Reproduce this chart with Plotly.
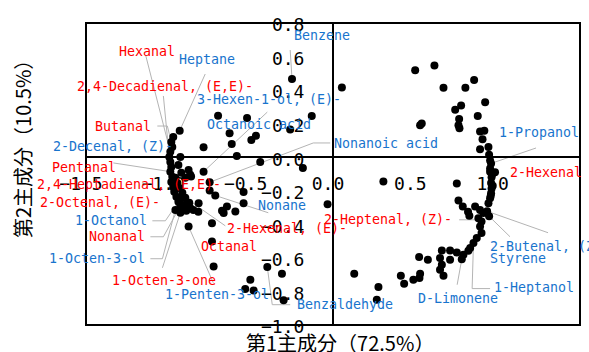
import plotly.graph_objects as go

# PCA loading plot of volatile compounds (PC1 vs PC2).
# Blank names are variables drawn without a text label.
compound = [
    "Hexanal", "2,4-Decadienal, (E,E)-", "Butanal", "Heptane", "2-Decenal, (Z)-",
    "Pentanal", "Benzene", "3-Hexen-1-ol, (E)-", "Octanoic acid", "Nonanoic acid",
    "1-Propanol", "2-Hexenal", "2-Butenal, (Z)-", "Styrene", "2-Heptenal, (Z)-",
    "1-Heptanol", "D-Limonene", "Benzaldehyde", "1-Penten-3-ol", "1-Octen-3-one",
    "1-Octen-3-ol", "Nonanal", "1-Octanol", "2-Hexenal, (E)-", "Nonane",
    "Octanal", "2-Octenal, (E)-", "2,4-Heptadienal, (E,E)-",
    # left cluster
    "", "", "", "", "", "", "", "", "", "", "", "", "", "", "", "", "", "", "", "", "", "", "", "", "",
    # upper middle
    "", "", "", "", "", "", "", "", "", "", "", "",
    # right arc
    "", "", "", "", "", "", "", "", "", "", "", "", "", "", "", "", "", "", "", "", "",
    "", "", "", "", "", "", "", "", "", "", "", "", "", "", "", "", "", "", "", "", "",
    "", "", "", "", "", "", "", "", "", "", "", "", "", "", "", "", "", "", "", "", "",
    "", "",
    # lower left
    "", "", "", "", "", "", "", "", "", "", "", "", "", "", "",
]

pc1 = [
    -0.988, -0.994, -0.982, -0.931, -0.976,
    -0.988, -0.249, -0.786, -0.628, -0.749,
    0.960, 0.984, 0.936, 0.948, 0.902,
    0.853, 0.782, -0.399, -0.877, -0.927,
    -0.957, -0.927, -0.939, -0.897, -0.715,
    -0.735, -0.964, -0.862,
    -0.970, -0.988, -0.982, -0.976, -0.982, -0.970, -0.951, -0.909, -0.891, -0.957,
    -0.945, -0.933, -0.915, -0.873, -0.921, -0.897, -0.897, -0.867, -0.848, -0.818,
    -0.939, -0.927, -0.877, -0.921, -0.867,
    0.054, -0.129, -0.260, -0.522, -0.698, -0.615, -0.496, -0.468, -0.786, -0.584,
    -0.442, -0.183,
    0.499, 0.616, 0.671, 0.804, 0.857, 0.924, 0.778, 0.742, 0.766, 0.762, 0.768,
    0.529, 0.539, 0.879, 0.893, 0.919, 0.908, 0.893, 0.944, 0.948, 0.954,
    0.954, 0.954, 0.963, 0.960, 0.963, 0.960, 0.954, 0.944, 0.752, 0.762, 0.788,
    0.863, 0.893, 0.913, 0.883, 0.893, 0.902, 0.873, 0.833, 0.822, 0.792, 0.661,
    0.711, 0.752, 0.523, 0.576, 0.711, 0.661, 0.650, 0.671, 0.529, 0.525, 0.488,
    0.432, 0.412, 0.306, 0.276, 0.266, 0.129, -0.033, 0.828, 0.820, 0.650, 0.968,
    0.970, 0.958,
    -0.543, -0.543, -0.310, -0.502, -0.533, -0.482, -0.300, -0.749, -0.664, -0.593,
    -0.735, -0.725, -0.644, -0.674, -0.816,
]

pc2 = [
    0.032, 0.002, 0.091, 0.158, 0.061,
    -0.086, 0.466, -0.086, 0.143, -0.149,
    -0.037, -0.089, -0.322, -0.352, -0.383,
    -0.512, -0.608, -0.654, -0.413, -0.331,
    -0.314, -0.290, -0.266, -0.242, -0.228,
    -0.502, -0.206, -0.115,
    0.121, -0.028, -0.058, -0.117, -0.147, -0.177, -0.236, -0.308, -0.319, -0.123,
    -0.153, -0.183, -0.212, -0.272, -0.093, -0.123, -0.284, -0.302, -0.314, -0.325,
    -0.046, 0.002, -0.076, -0.244, -0.105,
    0.415, 0.246, 0.165, 0.234, 0.247, 0.079, 0.103, 0.128, 0.059, 0.008,
    -0.028, -0.064,
    0.518, 0.547, 0.414, 0.414, 0.460, 0.327, 0.309, 0.283, 0.228, 0.190, 0.173,
    0.190, 0.201, 0.246, 0.153, 0.158, 0.107, 0.048, 0.061, 0.014, -0.019,
    -0.067, -0.086, -0.120, -0.153, -0.186, -0.215, -0.245, -0.275, -0.156, -0.258, -0.294,
    -0.294, -0.314, -0.333, -0.363, -0.413, -0.452, -0.482, -0.541, -0.557, -0.581, -0.556,
    -0.556, -0.568, -0.595, -0.611, -0.611, -0.641, -0.670, -0.706, -0.694, -0.720, -0.730,
    -0.754, -0.706, -0.145, -0.773, -0.849, -0.694, -0.280, -0.349, -0.325, -0.601, -0.100,
    -0.170, -0.230,
    -0.208, -0.275, -0.694, -0.730, -0.785, -0.795, -0.853, -0.199, -0.333, -0.324,
    -0.393, -0.651, -0.294, -0.319, -0.274,
]

x_ticks = [-1.5, -1.0, -0.5, 0.0, 0.5, 1.0, 1.5]
y_ticks = [0.8, 0.6, 0.4, 0.2, 0.0, -0.2, -0.4, -0.6, -0.8, -1.0]
x_title = "第1主成分（72.5%）"
y_title = "第2主成分（10.5%）"

X_RANGE = [-1.5, 1.5]
Y_RANGE = [-1.0, 0.8]
RED = "#FF0000"
BLUE = "#1874CD"
LEADER = "#B4B4B4"
LABEL_FONT = "DejaVu Sans Mono, Liberation Mono, monospace"

# Label placement: colour, left edge / vertical centre of the text (axis units),
# and the bend points of the leader line running from the text to its marker.
placement = {
    "Hexanal": (RED, -1.309, 0.630, [(-1.138, 0.609)]),
    "2,4-Decadienal, (E,E)-": (RED, -1.564, 0.424, [(-1.030, 0.365)]),
    "Butanal": (RED, -1.455, 0.186, [(-1.067, 0.186), (-1.006, 0.186)]),
    "Pentanal": (RED, -1.716, -0.064, [(-1.334, -0.034)]),
    "2,4-Heptadienal, (E,E)-": (RED, -1.807, -0.165, []),
    "2-Octenal, (E)-": (RED, -1.789, -0.272, []),
    "Nonanal": (RED, -1.492, -0.474, [(-1.109, -0.474), (-1.030, -0.474)]),
    "1-Octen-3-one": (RED, -1.352, -0.736, [(-1.036, -0.659)]),
    "Octanal": (RED, -0.812, -0.534, []),
    "2-Hexenal, (E)-": (RED, -0.654, -0.427, [(-0.654, -0.409)]),
    "2-Heptenal, (Z)-": (RED, -0.066, -0.373, [(0.766, -0.373), (0.875, -0.373)]),
    "2-Hexenal": (RED, 1.063, -0.093, []),
    "Heptane": (BLUE, -0.945, 0.585, [(-0.776, 0.496)]),
    "Benzene": (BLUE, -0.248, 0.728, [(-0.260, 0.639)]),
    "3-Hexen-1-ol, (E)-": (BLUE, -0.836, 0.347, [(-0.399, 0.269)]),
    "Octanoic acid": (BLUE, -0.775, 0.198, []),
    "Nonanoic acid": (BLUE, -0.005, 0.079, [(-0.017, 0.085), (-0.120, 0.085)]),
    "1-Propanol": (BLUE, 0.996, 0.145, [(1.233, 0.055)]),
    "2-Decenal, (Z)-": (BLUE, -1.710, 0.061, []),
    "1-Octanol": (BLUE, -1.576, -0.379, [(-1.097, -0.379), (-1.018, -0.379)]),
    "1-Octen-3-ol": (BLUE, -1.734, -0.605, [(-1.109, -0.605), (-1.036, -0.605)]),
    "1-Penten-3-ol": (BLUE, -1.031, -0.819, [(-0.727, -0.748)]),
    "Nonane": (BLUE, -0.466, -0.290, [(-0.393, -0.331)]),
    "Benzaldehyde": (BLUE, -0.229, -0.879, [(-0.260, -0.879), (-0.369, -0.879)]),
    "D-Limonene": (BLUE, 0.505, -0.843, [(0.754, -0.760)]),
    "1-Heptanol": (BLUE, 0.966, -0.777, [(0.954, -0.783), (0.845, -0.783)]),
    "2-Butenal, (Z)-": (BLUE, 0.942, -0.534, [(1.306, -0.450)]),
    "Styrene": (BLUE, 0.942, -0.605, [(1.075, -0.474)]),
}


def to_paper(x, y):
    px = (x - X_RANGE[0]) / (X_RANGE[1] - X_RANGE[0])
    py = (y - Y_RANGE[0]) / (Y_RANGE[1] - Y_RANGE[0])
    return px, py


# leader lines: text -> bend points -> marker
lx, ly = [], []
for name, x, y in zip(compound, pc1, pc2):
    if not name:
        continue
    bends = placement[name][3]
    if not bends:
        continue
    for bx, by in bends:
        lx.append(bx)
        ly.append(by)
    lx += [x, None]
    ly += [y, None]

fig = go.Figure()
fig.add_trace(go.Scatter(
    x=lx, y=ly, mode="lines", line=dict(color=LEADER, width=1),
    hoverinfo="skip", cliponaxis=False, showlegend=False,
))
fig.add_trace(go.Scatter(
    x=pc1, y=pc2, mode="markers", text=compound,
    marker=dict(color="black", size=8, line=dict(width=0)),
    cliponaxis=False, showlegend=False,
))

annotations = []
for name in compound:
    if not name:
        continue
    color, tx, ty, _ = placement[name]
    px, py = to_paper(tx, ty)
    annotations.append(dict(
        x=px, y=py, xref="paper", yref="paper", text=name, showarrow=False,
        xanchor="left", yanchor="middle",
        font=dict(family=LABEL_FONT, size=13.3, color=color),
    ))

annotations.append(dict(
    x=0.5145, y=-0.058, xref="paper", yref="paper", text=x_title, showarrow=False,
    xanchor="center", yanchor="middle",
    font=dict(family="Noto Sans CJK JP", size=20, color="black"),
))
annotations.append(dict(
    x=-0.127, y=0.60, xref="paper", yref="paper", text=y_title, showarrow=False,
    xanchor="center", yanchor="middle", textangle=-90,
    font=dict(family="Noto Sans CJK JP", size=20, color="black"),
))

_, y_zero = to_paper(0, 0)
x_zero, _ = to_paper(0, 0)

tick_font = dict(family=LABEL_FONT, size=18, color="black")

fig.update_layout(
    width=589, height=352,
    margin=dict(l=86, r=9, t=23, b=27),
    paper_bgcolor="white", plot_bgcolor="white",
    xaxis=dict(
        range=X_RANGE, anchor="free", position=y_zero,
        showline=True, linecolor="black", linewidth=2,
        showgrid=False, zeroline=False, ticks="",
        tickvals=x_ticks, tickformat=".1f", tickfont=tick_font,
        ticklabelstandoff=10, ticklabelshift=-5,
    ),
    yaxis=dict(
        range=Y_RANGE, anchor="free", position=x_zero,
        showline=True, linecolor="black", linewidth=2,
        showgrid=False, zeroline=False, ticks="",
        tickvals=y_ticks, tickformat=".1f", tickfont=tick_font,
        ticklabelstandoff=24, ticklabelshift=2,
    ),
    shapes=[dict(
        type="rect", xref="paper", yref="paper", x0=0, x1=1, y0=0, y1=1,
        line=dict(color="black", width=2), layer="above",
    )],
    annotations=annotations,
)

fig.write_html("out.html")
